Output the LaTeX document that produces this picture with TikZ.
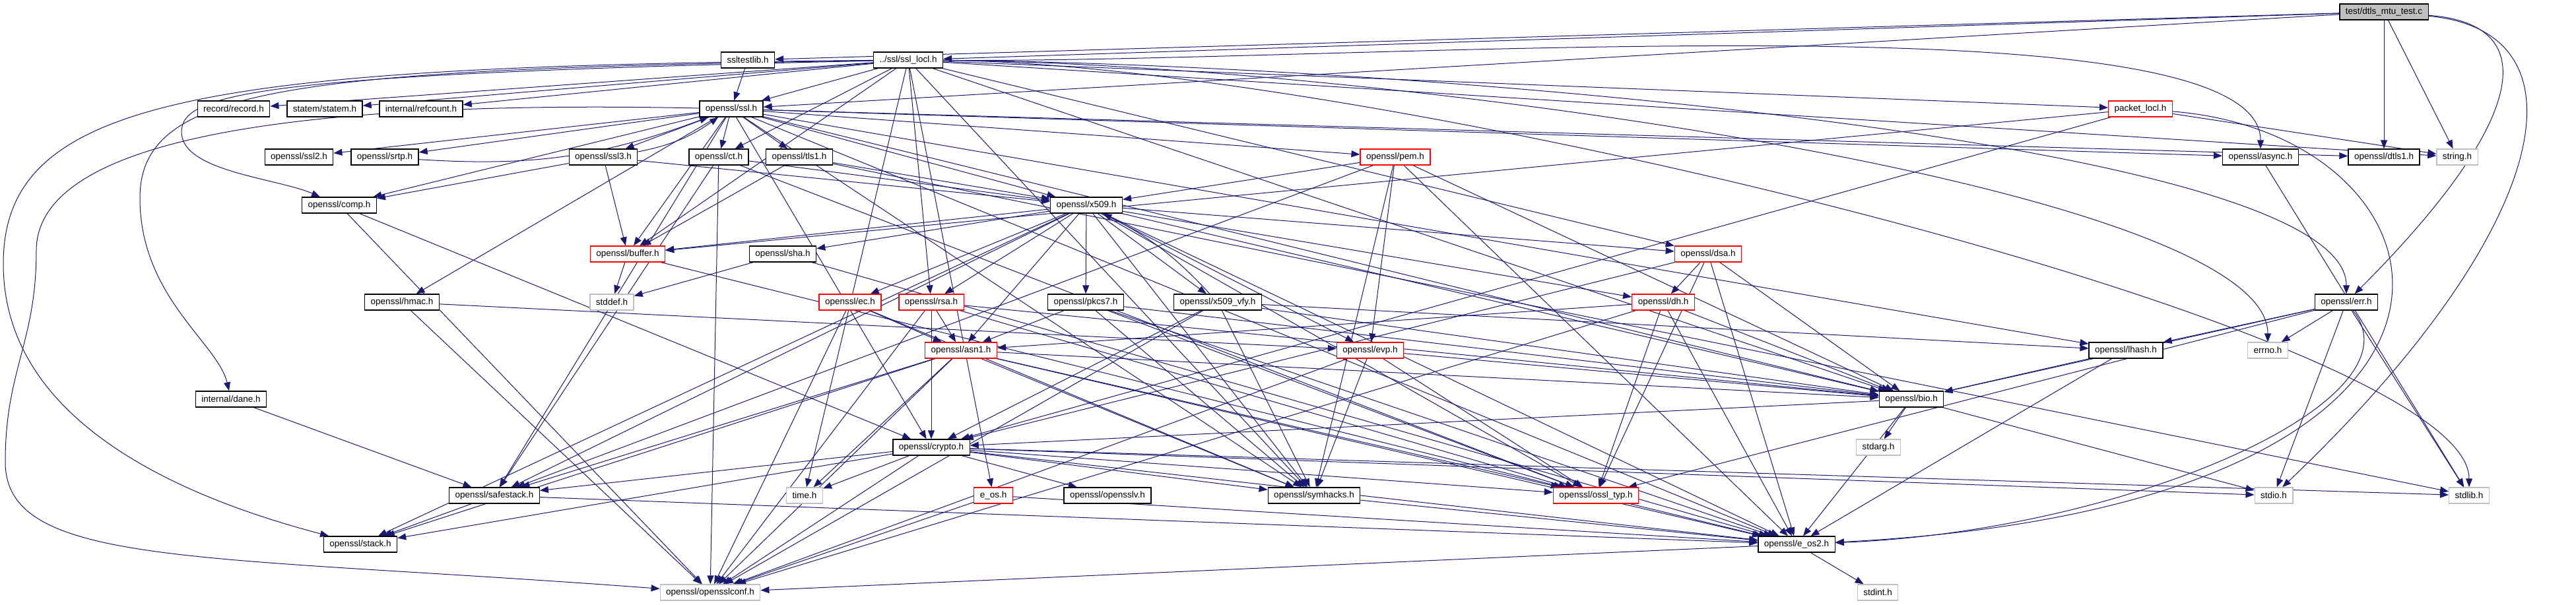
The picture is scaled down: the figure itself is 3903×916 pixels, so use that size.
\documentclass[tikz,border=0pt]{standalone}
\usepackage{fontspec}
\setmainfont{Liberation Sans}
\usepackage{tikz}
\usetikzlibrary{arrows.meta,backgrounds}
\definecolor{edgeBlue}{RGB}{25,25,112}
\definecolor{docGray}{RGB}{191,191,191}
\definecolor{truncRed}{RGB}{255,0,0}

\begin{document}
\begin{tikzpicture}[x=1pt,y=-1pt,every node/.style={font=\fontsize{13.5}{16}\selectfont},
  hdr/.style={draw=black,line width=1.3pt,fill=white,minimum height=24pt,inner xsep=9pt,inner ysep=0pt},
  trunc/.style={hdr,draw=truncRed},
  sysh/.style={hdr,draw=docGray},
  inc/.style={draw=edgeBlue,line width=1pt,-{Triangle[length=13pt,width=10pt]}}]
  \useasboundingbox (0,0) rectangle (3903,916);
  % rank 0-1
  \node[hdr,fill=docGray] (test) at (3612,18){test/dtls\_mtu\_test.c};
  \node[hdr] (ssltestlib) at (1133,91){ssltestlib.h};
  \node[hdr] (ssllocl) at (1376,91){../ssl/ssl\_locl.h};
  % rank 2
  \node[hdr] (record) at (354,165){record/record.h};
  \node[hdr] (statem) at (492,165){statem/statem.h};
  \node[hdr] (refcount) at (638,165){internal/refcount.h};
  \node[hdr] (ssl) at (1108,165){openssl/ssl.h};
  \node[trunc] (packetlocl) at (3243,165){packet\_locl.h};
  % rank 3
  \node[hdr] (ssl2) at (453,238){openssl/ssl2.h};
  \node[hdr] (srtp) at (583,238){openssl/srtp.h};
  \node[hdr] (ssl3) at (914,238){openssl/ssl3.h};
  \node[hdr] (ct) at (1089,238){openssl/ct.h};
  \node[hdr] (tls1) at (1211,238){openssl/tls1.h};
  \node[trunc] (pem) at (2114,238){openssl/pem.h};
  \node[hdr] (async) at (3425,238){openssl/async.h};
  \node[hdr] (dtls1) at (3612,238){openssl/dtls1.h};
  \node[sysh] (string) at (3723,238){string.h};
  % rank 4-5
  \node[hdr] (comp) at (514,311){openssl/comp.h};
  \node[hdr] (x509) at (1646,311){openssl/x509.h};
  \node[trunc] (buffer) at (951,385){openssl/buffer.h};
  \node[hdr] (sha) at (1186,385){openssl/sha.h};
  \node[trunc] (dsa) at (2588,385){openssl/dsa.h};
  % rank 6
  \node[hdr] (hmac) at (609,458){openssl/hmac.h};
  \node[sysh] (stddef) at (927,458){stddef.h};
  \node[trunc] (ec) at (1288,458){openssl/ec.h};
  \node[trunc] (rsa) at (1411,458){openssl/rsa.h};
  \node[hdr] (pkcs7) at (1645,458){openssl/pkcs7.h};
  \node[hdr] (x509vfy) at (1845,458){openssl/x509\_vfy.h};
  \node[trunc] (dh) at (2520,458){openssl/dh.h};
  \node[hdr] (err) at (3555,458){openssl/err.h};
  % rank 7-9
  \node[trunc] (asn1) at (1456,531){openssl/asn1.h};
  \node[trunc] (evp) at (2076,531){openssl/evp.h};
  \node[hdr] (lhash) at (3221,531){openssl/lhash.h};
  \node[sysh] (errno) at (3436,531){errno.h};
  \node[hdr] (dane) at (350,605){internal/dane.h};
  \node[hdr] (bio) at (2896,605){openssl/bio.h};
  \node[hdr] (crypto) at (1411,678){openssl/crypto.h};
  \node[sysh] (stdarg) at (2846,678){stdarg.h};
  % rank 10
  \node[hdr] (safestack) at (749,751){openssl/safestack.h};
  \node[sysh] (timeh) at (1219,751){time.h};
  \node[trunc] (eos) at (1505,751){e\_os.h};
  \node[hdr] (opensslv) at (1678,751){openssl/opensslv.h};
  \node[hdr] (symhacks) at (1991,751){openssl/symhacks.h};
  \node[trunc] (ossltyp) at (2418,751){openssl/ossl\_typ.h};
  \node[sysh] (stdio) at (3445,751){stdio.h};
  \node[sysh] (stdlib) at (3741,751){stdlib.h};
  % rank 11-12
  \node[hdr] (stack) at (546,825){openssl/stack.h};
  \node[hdr] (eos2) at (2722,825){openssl/e\_os2.h};
  \node[sysh] (opensslconf) at (1076,898){openssl/opensslconf.h};
  \node[sysh] (stdint) at (2845,898){stdint.h};

  \begin{scope}[on background layer]
  % test program
  \foreach \dst in {ssltestlib,ssllocl,ssl,dtls1,string} \draw[inc] (test) -- (\dst);
  \draw[inc] (test) .. controls +(260,20) and +(250,-250) .. (err);
  \draw[inc] (test) .. controls +(320,30) and +(420,-400) .. (stdio);
  \draw[inc] (ssltestlib) -- (ssl);
  % ssl_locl.h
  \foreach \dst in {eos,timeh,string,buffer,bio,rsa,dsa,ssl,symhacks,ct,record,statem,packetlocl,refcount}
    \draw[inc] (ssllocl) -- (\dst);
  \foreach \dst in {err,errno,stdlib,async}
    \draw[inc] (ssllocl) .. controls +(700,5) and +(0,-250) .. (\dst);
  \draw[inc] (ssllocl) .. controls (300,100) and (5,150) .. (5,400) .. controls (5,650) and (300,760) .. (stack);
  \draw[inc] (ssllocl) .. controls (450,105) and (212,130) .. (212,300) .. controls (212,450) and (330,520) .. (dane);
  \draw[inc] (ssllocl) .. controls (400,112) and (275,140) .. (275,200) .. controls (275,260) and (420,270) .. (comp);
  % ssl.h
  \foreach \dst in {eos2,crypto,x509,bio,lhash,buffer,pem,hmac,async,safestack,symhacks,ct,ssl2,ssl3,tls1,dtls1,srtp,comp}
    \draw[inc] (ssl) -- (\dst);
  \draw[inc] (ssl) .. controls (400,150) and (55,220) .. (55,380) .. controls (55,520) and (8,560) .. (8,700) .. controls (8,860) and (300,840) .. (opensslconf);
  % second level
  \foreach \dst in {string,buffer,crypto} \draw[inc] (packetlocl) -- (\dst);
  \draw[inc] (packetlocl) .. controls +(500,40) and +(1150,-60) .. (eos2);
  \draw[inc] (srtp) to[bend right=12] (ssl);
  \foreach \dst in {comp,buffer,x509} \draw[inc] (ssl3) -- (\dst);
  \draw[inc] (ssl3) to[bend right=12] (ssl);
  \foreach \dst in {opensslconf,ossltyp,safestack,x509} \draw[inc] (ct) -- (\dst);
  \foreach \dst in {stdlib,buffer,x509} \draw[inc] (tls1) -- (\dst);
  \foreach \dst in {eos2,bio,safestack,evp,x509,symhacks} \draw[inc] (pem) -- (\dst);
  \draw[inc] (async) -- (stdlib);
  \foreach \dst in {crypto,opensslconf} \draw[inc] (comp) -- (\dst);
  % x509.h
  \foreach \dst in {eos2,ossltyp,symhacks,buffer,evp,bio,stack,asn1,safestack,ec,rsa,dsa,dh,sha,x509vfy,pkcs7}
    \draw[inc] (x509) -- (\dst);
  \foreach \dst in {ossltyp,stddef} \draw[inc] (buffer) -- (\dst);
  \foreach \dst in {eos2,stddef} \draw[inc] (sha) -- (\dst);
  \foreach \dst in {eos2,bio,crypto,ossltyp,dh} \draw[inc] (dsa) -- (\dst);
  \foreach \dst in {opensslconf,evp} \draw[inc] (hmac) -- (\dst);
  \foreach \dst in {opensslconf,asn1,symhacks} \draw[inc] (ec) -- (\dst);
  \foreach \dst in {opensslconf,asn1,bio,crypto,ossltyp} \draw[inc] (rsa) -- (\dst);
  \foreach \dst in {asn1,bio,eos2,symhacks,ossltyp} \draw[inc] (pkcs7) -- (\dst);
  \foreach \dst in {opensslconf,lhash,bio,crypto,symhacks} \draw[inc] (x509vfy) -- (\dst);
  \draw[inc] (x509vfy) to[bend right=10] (x509);
  \foreach \dst in {eos2,opensslconf,bio,asn1,ossltyp} \draw[inc] (dh) -- (\dst);
  \foreach \dst in {stdio,stdlib,ossltyp,bio,lhash,errno} \draw[inc] (err) -- (\dst);
  \draw[inc] (err) .. controls +(120,150) and +(500,-20) .. (eos2);
  % lower levels
  \foreach \dst in {timeh,eos2,opensslconf,bio,stack,safestack,symhacks,ossltyp} \draw[inc] (asn1) -- (\dst);
  \foreach \dst in {opensslconf,ossltyp,symhacks,bio} \draw[inc] (evp) -- (\dst);
  \foreach \dst in {eos2,bio} \draw[inc] (lhash) -- (\dst);
  \draw[inc] (dane) -- (safestack);
  \foreach \dst in {eos2,stdio,stdarg,crypto} \draw[inc] (bio) -- (\dst);
  \foreach \dst in {stdlib,timeh,eos2,stdio,stack,safestack,opensslv,ossltyp,opensslconf,symhacks}
    \draw[inc] (crypto) -- (\dst);
  \foreach \dst in {stack,eos2} \draw[inc] (safestack) -- (\dst);
  \foreach \dst in {opensslconf,eos2} \draw[inc] (eos) -- (\dst);
  \draw[inc] (symhacks) -- (eos2);
  \draw[inc] (ossltyp) -- (eos2);
  \foreach \dst in {opensslconf,stdint} \draw[inc] (eos2) -- (\dst);
  \end{scope}
\end{tikzpicture}
\end{document}
